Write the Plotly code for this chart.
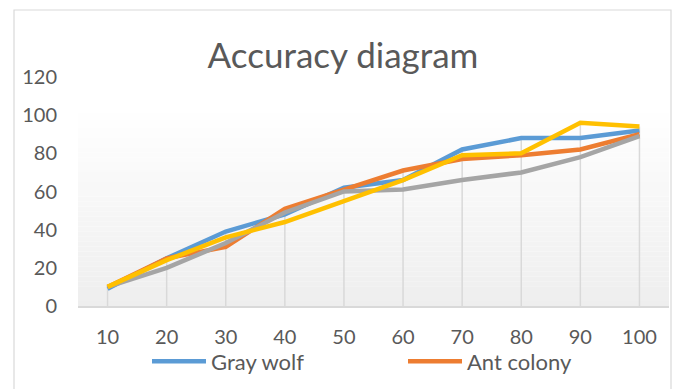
import plotly.graph_objects as go

categories = [10, 20, 30, 40, 50, 60, 70, 80, 90, 100]
gray_wolf = [9, 25, 39, 48, 62, 66, 82, 88, 88, 92]
ant_colony = [10, 25, 31, 51, 61, 71, 77, 79, 82, 90]
series3 = [10, 20, 33, 49, 60, 61, 66, 70, 78, 89]
series4 = [10, 24, 36, 44, 55, 66, 79, 80, 96, 94]
y_ticks = [0, 20, 40, 60, 80, 100, 120]

FONT = "Lato"
TXT = "#595959"

fig = go.Figure()

# drop lines (from the highest point of each category down to the axis)
dx, dy = [], []
for i, c in enumerate(categories):
    top = max(gray_wolf[i], ant_colony[i], series3[i], series4[i])
    dx += [c, c, None]
    dy += [0, top, None]
fig.add_trace(go.Scatter(x=dx, y=dy, mode="lines", line=dict(color="#d9d9d9", width=1.5),
                         showlegend=False, hoverinfo="skip"))

series = [
    ("Gray wolf", gray_wolf, "#5B9BD5", True),
    ("Ant colony", ant_colony, "#ED7D31", True),
    ("Series 3", series3, "#A5A5A5", False),
    ("Series 4", series4, "#FFC000", False),
]
for name, vals, col, show in series:
    fig.add_trace(go.Scatter(x=categories, y=vals, name=name, mode="lines",
                             line=dict(color=col, width=4.5), showlegend=show))

# gradient plot background (white at top to light gray at bottom)
shapes = []
n = 40
top_val = 104
for k in range(n):
    y0 = top_val * k / n
    y1 = top_val * (k + 1) / n
    t = 1 - (k + 0.5) / n
    g = int(round(255 - (255 - 238) * t))
    shapes.append(dict(type="rect", xref="x domain", yref="y", x0=0, x1=1, y0=y0, y1=y1,
                       fillcolor=f"rgb({g},{g},{g})", line=dict(width=0), layer="below"))
# outer chart border
shapes.append(dict(type="rect", xref="paper", yref="paper",
                   x0=-64 / 591, x1=593 / 591, y0=-0.5, y1=1 + 67 / 229,
                   line=dict(color="#d9d9d9", width=1.2), fillcolor="rgba(0,0,0,0)"))

fig.update_layout(
    width=676, height=389,
    margin=dict(l=78, r=7, t=77, b=83, autoexpand=False),
    paper_bgcolor="white", plot_bgcolor="rgba(0,0,0,0)",
    font=dict(family=FONT, color=TXT, size=20),
    title=dict(text="Accuracy diagram", x=343 / 676, xanchor="center", y=1 - 56 / 389,
               yanchor="middle", font=dict(family=FONT, size=35, color=TXT)),
    shapes=shapes,
    legend=dict(orientation="h", x=(147 - 78) / 591, xanchor="left", y=-0.15, yanchor="top",
                font=dict(size=22, color=TXT), entrywidth=187, bgcolor="rgba(0,0,0,0)",
                itemwidth=54),
    showlegend=True,
)
fig.update_xaxes(range=[5, 105], tickvals=categories, ticktext=[str(c) for c in categories],
                 showgrid=False, zeroline=False, showline=True, linecolor="#d9d9d9", linewidth=1.5,
                 ticks="", ticklabelstandoff=12, tickfont=dict(size=20, color=TXT))
fig.update_yaxes(range=[0, 120], tickvals=y_ticks, showgrid=False, zeroline=False,
                 showline=False, ticks="", ticklabelstandoff=20, tickfont=dict(size=20, color=TXT))

fig.write_html("out.html", config={"displayModeBar": False},
               post_script="document.body.style.margin='0';")
